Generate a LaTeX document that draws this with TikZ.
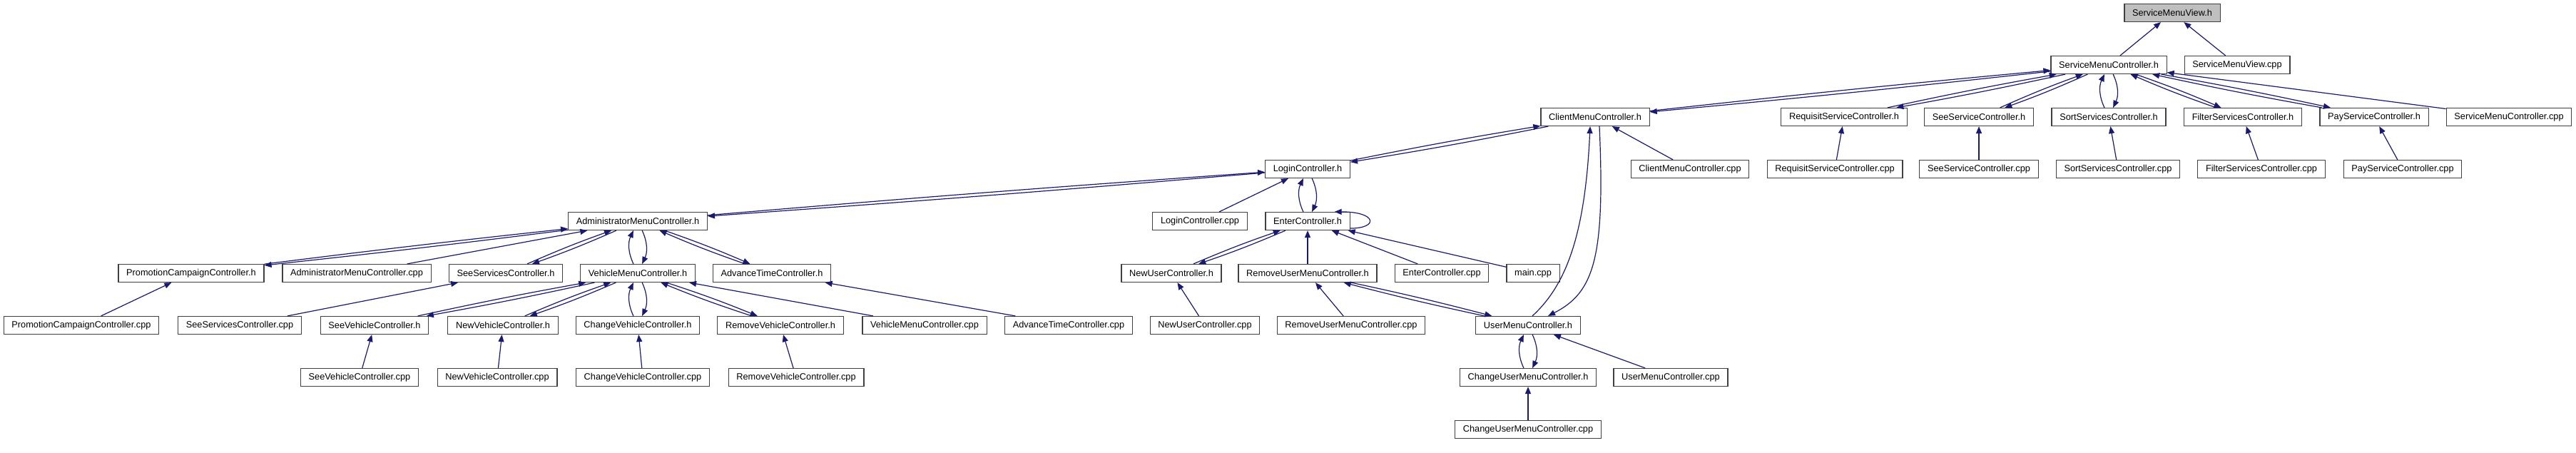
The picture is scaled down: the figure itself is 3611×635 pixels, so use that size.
\documentclass[tikz,border=0pt]{standalone}
\usepackage{fontspec}
\setmainfont{Liberation Sans}
\usepackage{tikz}
\usetikzlibrary{arrows.meta}
\definecolor{edgeblue}{HTML}{191970}
\definecolor{rootgray}{HTML}{BFBFBF}
\definecolor{boxline}{HTML}{404040}

\begin{document}
\begin{tikzpicture}[x=0.5pt, y=-0.5pt,
  file/.style={draw=boxline, line width=0.6pt, fill=white, minimum height=12.5pt,
               inner xsep=5.6pt, inner ysep=0pt, font=\fontsize{6.38}{7.5}\selectfont},
  rootfile/.style={file, fill=rootgray},
  arr/.style={-{Triangle[length=5pt,width=4pt]}, draw=edgeblue, line width=0.6pt}
]
\useasboundingbox (0,0) rectangle (3611,635);

% row 0 and 1
\node[rootfile] (smv_h) at (3045,18) {ServiceMenuView.h};
\node[file] (smc_h) at (2956,91) {ServiceMenuController.h};
\node[file] (smv_cpp) at (3136,91) {ServiceMenuView.cpp};

% row 2
\node[file] (cmc_h) at (2236,164) {ClientMenuController.h};
\node[file] (rsc_h) at (2585,164) {RequisitServiceController.h};
\node[file] (ssc_h) at (2774,164) {SeeServiceController.h};
\node[file] (sort_h) at (2956,164) {SortServicesController.h};
\node[file] (fsc_h) at (3144,164) {FilterServicesController.h};
\node[file] (psc_h) at (3328,164) {PayServiceController.h};
\node[file] (smc_cpp) at (3517,164) {ServiceMenuController.cpp};

% row 3
\node[file] (lc_h) at (1833,237) {LoginController.h};
\node[file] (cmc_cpp) at (2369,237) {ClientMenuController.cpp};
\node[file] (rsc_cpp) at (2572,237) {RequisitServiceController.cpp};
\node[file] (ssc_cpp) at (2774,237) {SeeServiceController.cpp};
\node[file] (sort_cpp) at (2969,237) {SortServicesController.cpp};
\node[file] (fsc_cpp) at (3170,237) {FilterServicesController.cpp};
\node[file] (psc_cpp) at (3368,237) {PayServiceController.cpp};

% row 4
\node[file] (amc_h) at (894,310) {AdministratorMenuController.h};
\node[file] (lc_cpp) at (1682,310) {LoginController.cpp};
\node[file] (ec_h) at (1833,310) {EnterController.h};

% row 5
\node[file] (pcc_h) at (268,383) {PromotionCampaignController.h};
\node[file] (amc_cpp) at (500,383) {AdministratorMenuController.cpp};
\node[file] (sssc_h) at (709,383) {SeeServicesController.h};
\node[file] (vmc_h) at (894,383) {VehicleMenuController.h};
\node[file] (atc_h) at (1082,383) {AdvanceTimeController.h};
\node[file] (nuc_h) at (1642,383) {NewUserController.h};
\node[file] (rumc_h) at (1833,383) {RemoveUserMenuController.h};
\node[file] (ec_cpp) at (2021,383) {EnterController.cpp};
\node[file] (main_cpp) at (2149,383) {main.cpp};

% row 6
\node[file] (pcc_cpp) at (114,456) {PromotionCampaignController.cpp};
\node[file] (sssc_cpp) at (336,456) {SeeServicesController.cpp};
\node[file] (svc_h) at (525,456) {SeeVehicleController.h};
\node[file] (nvc_h) at (705,456) {NewVehicleController.h};
\node[file] (cvc_h) at (894,456) {ChangeVehicleController.h};
\node[file] (rvc_h) at (1094,456) {RemoveVehicleController.h};
\node[file] (vmc_cpp) at (1296,456) {VehicleMenuController.cpp};
\node[file] (atc_cpp) at (1498,456) {AdvanceTimeController.cpp};
\node[file] (nuc_cpp) at (1689,456) {NewUserController.cpp};
\node[file] (rumc_cpp) at (1894,456) {RemoveUserMenuController.cpp};
\node[file] (umc_h) at (2142,456) {UserMenuController.h};

% row 7 and 8
\node[file] (svc_cpp) at (504,529) {SeeVehicleController.cpp};
\node[file] (nvc_cpp) at (697,529) {NewVehicleController.cpp};
\node[file] (cvc_cpp) at (901,529) {ChangeVehicleController.cpp};
\node[file] (rvc_cpp) at (1116,529) {RemoveVehicleController.cpp};
\node[file] (cumc_h) at (2142,529) {ChangeUserMenuController.h};
\node[file] (umc_cpp) at (2342,529) {UserMenuController.cpp};
\node[file] (cumc_cpp) at (2142,602) {ChangeUserMenuController.cpp};

% single includes
\draw[arr] (smc_h) -- (smv_h);
\draw[arr] (smv_cpp) -- (smv_h);
\draw[arr] (smc_cpp) -- (smc_h);
\draw[arr] (rsc_cpp) -- (rsc_h);
\draw[arr] (ssc_cpp) -- (ssc_h);
\draw[arr] (sort_cpp) -- (sort_h);
\draw[arr] (fsc_cpp) -- (fsc_h);
\draw[arr] (psc_cpp) -- (psc_h);
\draw[arr] (cmc_cpp) -- (cmc_h);
\draw[arr] (lc_cpp) -- (lc_h);
\draw[arr] (amc_cpp) -- (amc_h);
\draw[arr] (sssc_cpp) -- (sssc_h);
\draw[arr] (pcc_cpp) -- (pcc_h);
\draw[arr] (ec_cpp) -- (ec_h);
\draw[arr] (main_cpp) -- (ec_h);
\draw[arr] (rumc_h) -- (ec_h);
\draw[arr] (rumc_cpp) -- (rumc_h);
\draw[arr] (nuc_cpp) -- (nuc_h);
\draw[arr] (umc_cpp) -- (umc_h);
\draw[arr] (cumc_cpp) -- (cumc_h);
\draw[arr] (vmc_cpp) -- (vmc_h);
\draw[arr] (atc_cpp) -- (atc_h);
\draw[arr] (svc_cpp) -- (svc_h);
\draw[arr] (nvc_cpp) -- (nvc_h);
\draw[arr] (cvc_cpp) -- (cvc_h);
\draw[arr] (rvc_cpp) -- (rvc_h);
\draw[arr] ([yshift=1.5pt]ec_h.south east) .. controls +(40,0) and +(60,0) .. ([xshift=-11pt]ec_h.north east);

% mutual includes
\draw[arr] (cmc_h) to[bend left=0.5] (smc_h);
\draw[arr] (smc_h) to[bend left=0.5] (cmc_h);
\draw[arr] (rsc_h) to[bend left=1] (smc_h);
\draw[arr] (smc_h) to[bend left=1] (rsc_h);
\draw[arr] (ssc_h) to[bend left=2] (smc_h);
\draw[arr] (smc_h) to[bend left=2] (ssc_h);
\draw[arr] (sort_h) to[bend left=25] (smc_h);
\draw[arr] (smc_h) to[bend left=25] (sort_h);
\draw[arr] (fsc_h) to[bend left=2] (smc_h);
\draw[arr] (smc_h) to[bend left=2] (fsc_h);
\draw[arr] (psc_h) to[bend left=1] (smc_h);
\draw[arr] (smc_h) to[bend left=1] (psc_h);
\draw[arr] (lc_h) to[bend left=1] (cmc_h);
\draw[arr] (cmc_h) to[bend left=1] (lc_h);
\draw[arr] ([xshift=3pt]umc_h.north) .. controls +(47,-43) and +(-7,153) .. ([xshift=-3.5pt]cmc_h.south);
\draw[arr] ([xshift=3pt]cmc_h.south) .. controls +(8,183) and +(65,-33) .. ([xshift=14pt]umc_h.north);
\draw[arr] (ec_h) to[bend left=25] (lc_h);
\draw[arr] (lc_h) to[bend left=25] (ec_h);
\draw[arr] (nuc_h) to[bend left=2] (ec_h);
\draw[arr] (ec_h) to[bend left=2] (nuc_h);
\draw[arr] (amc_h) to[bend left=0.4] (lc_h);
\draw[arr] (lc_h) to[bend left=0.4] (amc_h);
\draw[arr] (rumc_h) to[bend left=1.2] (umc_h);
\draw[arr] (umc_h) to[bend left=1.2] (rumc_h);
\draw[arr] (cumc_h) to[bend left=25] (umc_h);
\draw[arr] (umc_h) to[bend left=25] (cumc_h);
\draw[arr] (pcc_h) to[bend left=0.5] (amc_h);
\draw[arr] (amc_h) to[bend left=0.5] (pcc_h);
\draw[arr] (sssc_h) to[bend left=2] (amc_h);
\draw[arr] (amc_h) to[bend left=2] (sssc_h);
\draw[arr] (vmc_h) to[bend left=25] (amc_h);
\draw[arr] (amc_h) to[bend left=25] (vmc_h);
\draw[arr] (atc_h) to[bend left=2] (amc_h);
\draw[arr] (amc_h) to[bend left=2] (atc_h);
\draw[arr] (svc_h) to[bend left=1] (vmc_h);
\draw[arr] (vmc_h) to[bend left=1] (svc_h);
\draw[arr] (nvc_h) to[bend left=2] (vmc_h);
\draw[arr] (vmc_h) to[bend left=2] (nvc_h);
\draw[arr] (cvc_h) to[bend left=25] (vmc_h);
\draw[arr] (vmc_h) to[bend left=25] (cvc_h);
\draw[arr] (rvc_h) to[bend left=2] (vmc_h);
\draw[arr] (vmc_h) to[bend left=2] (rvc_h);
\end{tikzpicture}
\end{document}
